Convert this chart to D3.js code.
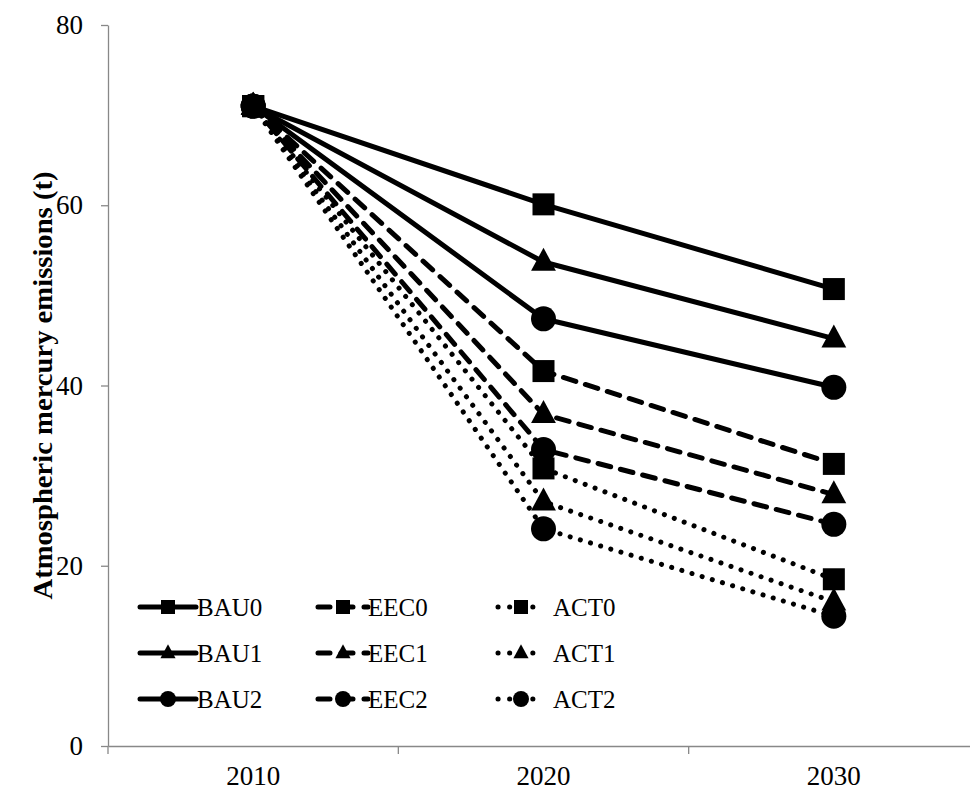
<!DOCTYPE html>
<html><head><meta charset="utf-8">
<script src="https://cdn.jsdelivr.net/npm/d3@7"></script>
<style>
html,body{margin:0;padding:0;background:#fff;}
svg{display:block;font-family:"Liberation Serif","Times New Roman",serif;}
</style></head>
<body><svg id="chart" width="970" height="791"></svg>
<script>
const years = ["2010","2020","2030"];
const yTicks = [0,20,40,60,80];
const seriesNames = ["BAU0","BAU1","BAU2","EEC0","EEC1","EEC2","ACT0","ACT1","ACT2"];
const BAU0 = [71, 60.1, 50.7];
const BAU1 = [71, 53.7, 45.2];
const BAU2 = [71, 47.4, 39.8];
const EEC0 = [71, 41.6, 31.3];
const EEC1 = [71, 36.8, 27.9];
const EEC2 = [71, 32.9, 24.6];
const ACT0 = [71, 30.8, 18.5];
const ACT1 = [71, 27.1, 16.0];
const ACT2 = [71, 24.1, 14.4];
const seriesValues = [BAU0,BAU1,BAU2,EEC0,EEC1,EEC2,ACT0,ACT1,ACT2];
const lineStyles = ["solid","solid","solid","dash","dash","dash","dot","dot","dot"];
const markerTypes = ["square","triangle","circle","square","triangle","circle","square","triangle","circle"];
const yTitle = "Atmospheric mercury emissions (t)";

(function(){
const svg = d3.select("#chart");
const mLeft = 108, mRight = 979, mTop = 25, mBottom = 746;
const x = d3.scaleBand().domain(years).range([mLeft, mRight]);
const y = d3.scaleLinear().domain([0,80]).range([mBottom, mTop]);
const axisColor = "#888";
const font = "'Liberation Serif','Times New Roman',serif";

// y axis
const yAxis = svg.append("g").attr("transform",`translate(${mLeft},0)`)
  .call(d3.axisLeft(y).tickValues(yTicks).tickSize(7).tickPadding(18).tickSizeOuter(0));
yAxis.select(".domain").attr("stroke",axisColor).attr("stroke-width",1.3);
yAxis.selectAll(".tick line").attr("stroke",axisColor).attr("stroke-width",1.3);
yAxis.selectAll(".tick text").attr("font-size",27).attr("fill","#000").attr("font-family",font);

// x axis
const xAxis = svg.append("g").attr("transform",`translate(0,${mBottom})`)
  .call(d3.axisBottom(x).tickSize(0).tickPadding(0).tickSizeOuter(0));
xAxis.select(".domain").attr("stroke",axisColor).attr("stroke-width",1.3);
xAxis.selectAll(".tick text").attr("font-size",27).attr("fill","#000").attr("font-family",font)
  .attr("y",39).attr("dy",null);
const bounds = years.map(d => x(d)).concat([x(years[years.length-1]) + x.bandwidth()]);
svg.append("g").selectAll("line").data(bounds).join("line")
  .attr("x1",d=>d).attr("x2",d=>d).attr("y1",mBottom).attr("y2",mBottom+8)
  .attr("stroke",axisColor).attr("stroke-width",1.3);

// y title
svg.append("text")
  .attr("transform",`translate(52,${(mTop+mBottom)/2 + 0}) rotate(-90)`)
  .attr("text-anchor","middle").attr("font-size",28).attr("font-weight","bold")
  .attr("textLength",428).attr("lengthAdjust","spacingAndGlyphs")
  .text(yTitle);

const dashFor = s => s==="dash" ? "13 10" : s==="dot" ? "0.1 10.5" : null;

function drawMarker(g, type, cx, cy, size){
  if(type==="square"){
    g.append("rect").attr("x",cx-size/2).attr("y",cy-size/2).attr("width",size).attr("height",size).attr("fill","#000");
  } else if(type==="triangle"){
    const h = size*1.0, w = size*1.08;
    g.append("path").attr("d",`M${cx},${cy-h*0.62}L${cx+w/2},${cy+h*0.38}L${cx-w/2},${cy+h*0.38}Z`).attr("fill","#000");
  } else {
    g.append("circle").attr("cx",cx).attr("cy",cy).attr("r",size/2).attr("fill","#000");
  }
}

const line = d3.line().x((d,i)=>x(years[i])+x.bandwidth()/2).y(d=>y(d));
const plot = svg.append("g");
seriesValues.forEach((vals,k)=>{
  const g = plot.append("g");
  g.append("path").attr("d",line(vals)).attr("fill","none").attr("stroke","#000")
    .attr("stroke-width",5).attr("stroke-linecap","round").attr("stroke-linejoin","round")
    .attr("stroke-dasharray",dashFor(lineStyles[k]));
  vals.forEach((v,i)=>{
    const sz = markerTypes[k]==="circle" ? 25 : (markerTypes[k]==="triangle" ? 23 : 22);
    drawMarker(g, markerTypes[k], x(years[i])+x.bandwidth()/2, y(v), sz);
  });
});

// legend
const legCols = [140, 318, 498];
const legRows = [607, 653, 699];
const leg = svg.append("g");
seriesNames.forEach((name,k)=>{
  const col = Math.floor(k/3), row = k%3;
  const x0 = legCols[col], yy = legRows[row];
  const g = leg.append("g");
  const style = lineStyles[k];
  let len = 56;
  if(style==="dash") len = 50;
  if(style==="dot") len = 40;
  g.append("line").attr("x1",x0).attr("x2",x0+len).attr("y1",yy).attr("y2",yy)
    .attr("stroke","#000").attr("stroke-width",5).attr("stroke-linecap","round")
    .attr("stroke-dasharray",style==="dash" ? "12 11" : style==="dot" ? "0.1 11.5" : null);
  const mx = style==="solid" ? x0+28 : style==="dash" ? x0+25 : x0+23;
  const sz = markerTypes[k]==="circle" ? 16 : 14;
  drawMarker(g, markerTypes[k], mx, yy, sz);
  const tx = style==="solid" ? x0+57 : style==="dash" ? x0+50 : x0+55;
  g.append("text").attr("x",tx).attr("y",yy).attr("dy","0.35em")
    .attr("font-size",25).text(name);
});
})();
</script></body></html>
